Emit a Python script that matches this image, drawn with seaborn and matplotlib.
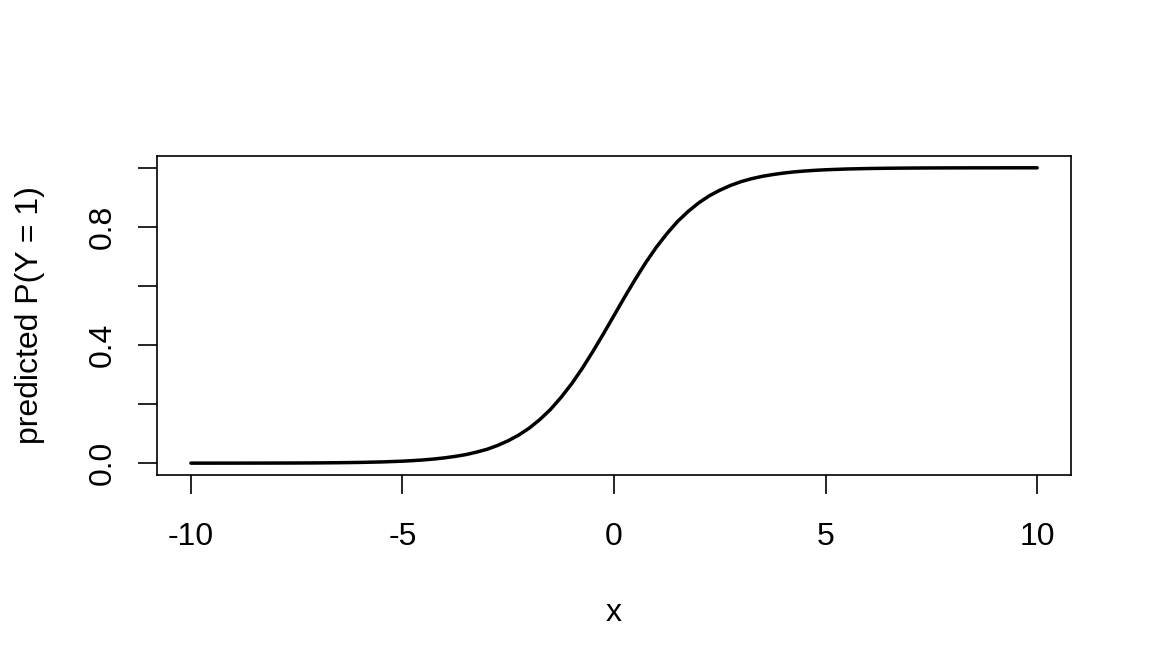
import matplotlib
matplotlib.use("Agg")
import matplotlib.pyplot as plt
import seaborn as sns
import pandas as pd

# data (predicted probability along x)
x_vals = [-10.0, -9.5, -9.0, -8.5, -8.0, -7.5, -7.0, -6.5, -6.0, -5.5, -5.0,
          -4.75, -4.5, -4.25, -4.0, -3.75, -3.5, -3.25, -3.0, -2.75, -2.5, -2.25, -2.0,
          -1.75, -1.5, -1.25, -1.0, -0.75, -0.5, -0.25, 0.0,
          0.25, 0.5, 0.75, 1.0, 1.25, 1.5, 1.75, 2.0, 2.25, 2.5, 2.75, 3.0,
          3.25, 3.5, 3.75, 4.0, 4.25, 4.5, 4.75, 5.0,
          5.5, 6.0, 6.5, 7.0, 7.5, 8.0, 8.5, 9.0, 9.5, 10.0]
p_vals = [0.00005, 0.00007, 0.00012, 0.0002, 0.00034, 0.00055, 0.0009, 0.0015, 0.0025, 0.0041, 0.0067,
          0.0086, 0.011, 0.0141, 0.018, 0.023, 0.029, 0.0373, 0.047, 0.060, 0.076, 0.0953, 0.119,
          0.148, 0.182, 0.223, 0.269, 0.321, 0.378, 0.438, 0.500,
          0.562, 0.622, 0.679, 0.731, 0.777, 0.818, 0.852, 0.881, 0.905, 0.924, 0.940, 0.953,
          0.963, 0.971, 0.977, 0.982, 0.986, 0.989, 0.9914, 0.9933,
          0.9959, 0.9975, 0.9985, 0.9991, 0.99945, 0.99966, 0.9998, 0.99988, 0.99993, 0.99995]
x_ticks = [-10, -5, 0, 5, 10]
y_ticks = [0.0, 0.2, 0.4, 0.6, 0.8, 1.0]
y_ticklabels = ["0.0", "", "0.4", "", "0.8", ""]

df = pd.DataFrame({"x": x_vals, "p": p_vals})

sns.set_style("white")
plt.rcParams["font.family"] = ["Liberation Sans", "DejaVu Sans"]
plt.rcParams["text.color"] = "black"
plt.rcParams["axes.labelcolor"] = "black"

fig = plt.figure(figsize=(11.52, 6.72), dpi=100)
ax = fig.add_axes([0.1363, 0.2932, 0.7934, 0.4747])

sns.lineplot(data=df, x="x", y="p", ax=ax, color="black", linewidth=2.5)

ax.set_xlim(-10.8, 10.8)
ax.set_ylim(-0.04, 1.04)
ax.set_xticks(x_ticks)
ax.set_xticklabels([str(t) for t in x_ticks])
ax.set_yticks(y_ticks)
ax.set_yticklabels(y_ticklabels, rotation=90, va="center")

for s in ax.spines.values():
    s.set_visible(True)
    s.set_color("black")
    s.set_linewidth(1.2)

ax.tick_params(axis="both", which="major", bottom=True, left=True, top=False, right=False,
               direction="out", length=14, width=1.2, color="black",
               labelsize=23, labelcolor="black")
ax.tick_params(axis="x", pad=20)
ax.tick_params(axis="y", pad=14)

ax.set_xlabel("x", fontsize=23, va="center", color="black")
ax.set_ylabel("predicted P(Y = 1)", fontsize=23, va="center", color="black")
ax.xaxis.set_label_coords(0.5, -0.4326)
ax.yaxis.set_label_coords(-0.139, 0.5)

fig.savefig("out.png", dpi=100, facecolor="white")
